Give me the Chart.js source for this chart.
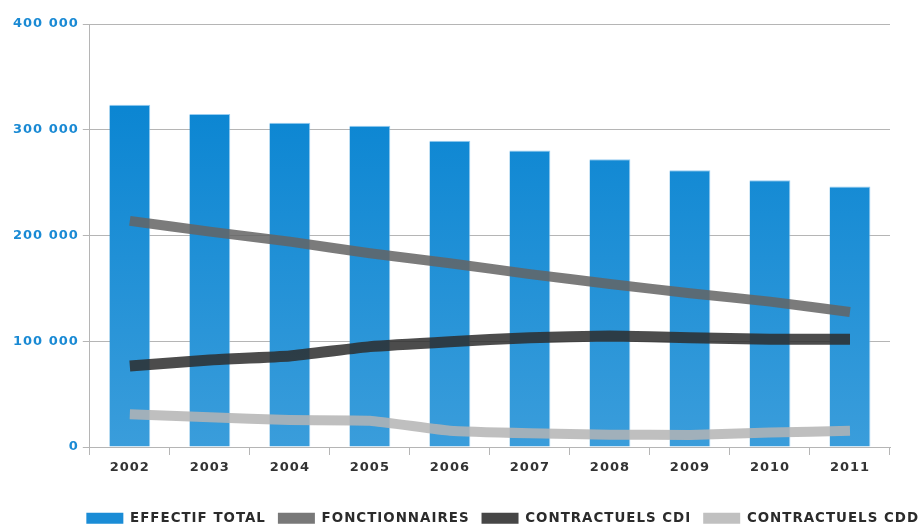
<!DOCTYPE html>
<html>
<head>
<meta charset="utf-8">
<script src="https://cdn.jsdelivr.net/npm/chart.js@4.4.0/dist/chart.umd.min.js"></script>
<style>
  html, body { margin: 0; padding: 0; background: #fff; }
  #wrap { width: 922px; height: 527px; }
</style>
</head>
<body>
<div id="wrap"><canvas id="effectifs"></canvas></div>
<script>
// Données
const annees = ['2002', '2003', '2004', '2005', '2006', '2007', '2008', '2009', '2010', '2011'];
const effectifTotal = [323600, 315000, 306600, 303700, 289500, 280300, 272200, 261800, 252300, 246300];
const fonctionnaires = [213800, 203700, 194200, 183200, 173800, 163500, 154200, 145400, 137500, 127700];
const contractuelsCDI = [76600, 82300, 86100, 94900, 99600, 103400, 105000, 103400, 101900, 101900];
const contractuelsCDD = [30900, 28100, 25500, 24900, 15400, 13000, 11700, 11400, 13600, 15400];
const yTicks = [0, 100000, 200000, 300000, 400000];

const police = "'DejaVu Sans', sans-serif";

// espacement des lettres (style Gotham)
const espacement = {
    id: 'espacement',
    beforeUpdate(chart) { chart.ctx.letterSpacing = '1px'; },
    beforeDraw(chart) { chart.ctx.letterSpacing = '1px'; }
};

function degradeBarres(context) {
    const chart = context.chart;
    const area = chart.chartArea;
    if (!area) return '#0a86d2';
    const g = chart.ctx.createLinearGradient(0, area.top, 0, area.bottom);
    g.addColorStop(0, '#0080d0');
    g.addColorStop(1, '#3a9ddb');
    return g;
}

const ctx = document.getElementById('effectifs').getContext('2d');
new Chart(ctx, {
    data: {
        labels: annees,
        datasets: [
            {
                type: 'bar',
                label: 'EFFECTIF TOTAL',
                data: effectifTotal,
                backgroundColor: degradeBarres,
                borderColor: 'rgba(140, 200, 240, 0.9)',
                borderWidth: { top: 1, right: 1, left: 0, bottom: 0 },
                categoryPercentage: 1,
                barPercentage: 0.51,
                order: 2
            },
            {
                type: 'line',
                label: 'FONCTIONNAIRES',
                data: fonctionnaires,
                borderColor: 'rgba(100, 100, 100, 0.85)',
                backgroundColor: 'rgba(120, 120, 120, 1)',
                borderWidth: 10,
                borderCapStyle: 'butt',
                pointRadius: 0,
                tension: 0.12,
                order: 1
            },
            {
                type: 'line',
                label: 'CONTRACTUELS CDI',
                data: contractuelsCDI,
                borderColor: 'rgba(45, 45, 45, 0.85)',
                backgroundColor: 'rgba(70, 70, 70, 1)',
                borderWidth: 11,
                borderCapStyle: 'butt',
                pointRadius: 0,
                tension: 0.12,
                order: 1
            },
            {
                type: 'line',
                label: 'CONTRACTUELS CDD',
                data: contractuelsCDD,
                borderColor: 'rgba(180, 180, 180, 0.85)',
                backgroundColor: 'rgba(192, 192, 192, 1)',
                borderWidth: 10,
                borderCapStyle: 'butt',
                pointRadius: 0,
                tension: 0.12,
                order: 1
            }
        ]
    },
    options: {
        responsive: true,
        maintainAspectRatio: false,
        animation: false,
        layout: {
            padding: { top: 24, right: -9, left: 9, bottom: -8 }
        },
        plugins: {
            tooltip: { enabled: false },
            legend: {
                position: 'bottom',
                align: 'end',
                labels: {
                    boxWidth: 37,
                    boxHeight: 11,
                    padding: 12,
                    color: '#2b2b2b',
                    font: { family: police, size: 13.4, weight: 'bold' },
                    sort: (a, b) => a.datasetIndex - b.datasetIndex,
                    generateLabels: function (chart) {
                        const items = Chart.defaults.plugins.legend.labels.generateLabels(chart);
                        items.forEach(function (item) {
                            const ds = chart.data.datasets[item.datasetIndex];
                            item.fillStyle = ds.type === 'bar' ? '#1a8cd6' : ds.backgroundColor;
                            item.strokeStyle = 'rgba(0,0,0,0)';
                            item.lineWidth = 0;
                        });
                        return items;
                    }
                }
            }
        },
        scales: {
            x: {
                offset: true,
                grid: {
                    offset: true,
                    drawOnChartArea: false,
                    drawTicks: true,
                    tickLength: 8,
                    color: '#b5b5b5'
                },
                border: { color: '#b5b5b5' },
                ticks: {
                    color: '#333333',
                    padding: 5,
                    font: { family: police, size: 13, weight: 'bold' }
                },
                afterFit: function (axis) {
                    axis.height += 19;
                }
            },
            y: {
                min: 0,
                max: 400000,
                afterBuildTicks: function (axis) {
                    axis.ticks = yTicks.map(v => ({ value: v }));
                },
                grid: {
                    color: '#b5b5b5',
                    tickLength: 7
                },
                border: { color: '#b5b5b5' },
                ticks: {
                    color: '#1a8ad4',
                    padding: 4,
                    font: { family: police, size: 13, weight: 'bold' },
                    callback: function (value) {
                        return value.toString().replace(/\B(?=(\d{3})+(?!\d))/g, ' ');
                    }
                }
            },
            // marge à droite (axe vide)
            marge: {
                position: 'right',
                grid: { display: false },
                border: { display: false },
                ticks: { display: false },
                afterFit: function (axis) {
                    axis.width = 41;
                }
            }
        }
    },
    plugins: [espacement]
});
</script>
</body>
</html>
